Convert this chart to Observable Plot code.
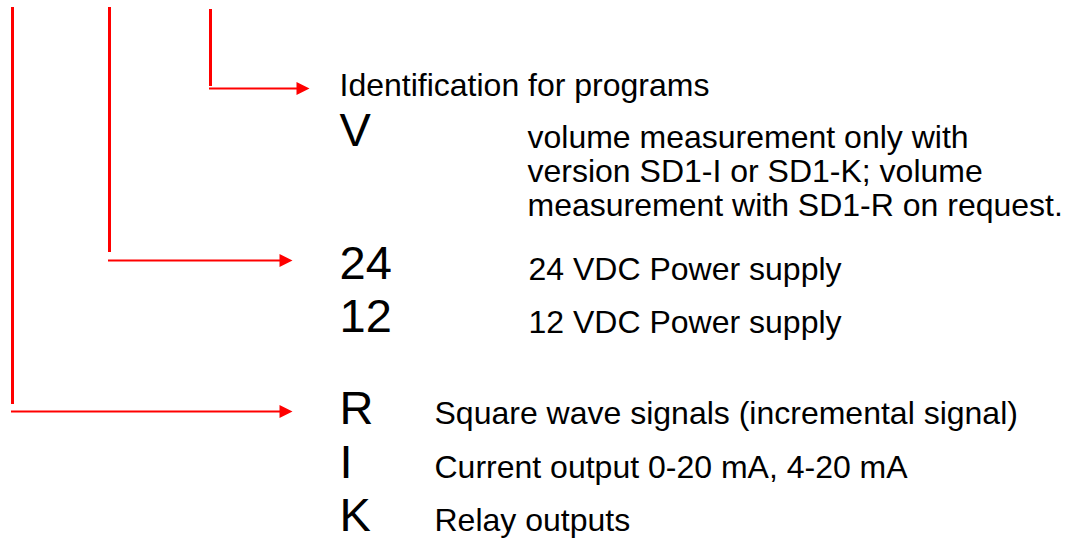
<!DOCTYPE html>
<html>
<head>
<meta charset="utf-8">
<script src="https://cdn.jsdelivr.net/npm/d3@7"></script>
<script src="https://cdn.jsdelivr.net/npm/@observablehq/plot@0.6"></script>
<style>
  html, body { margin: 0; padding: 0; background: #fff; }
  #chart { width: 1072px; height: 540px; }
</style>
</head>
<body>
<div id="chart"></div>
<script>
// ---- content ----
const heading = "Identification for programs";
const codes = ["V", "24", "12", "R", "I", "K"];
const descriptions = [
  "volume measurement only with",
  "version SD1-I or SD1-K; volume",
  "measurement with SD1-R on request.",
  "24 VDC Power supply",
  "12 VDC Power supply",
  "Square wave signals (incremental signal)",
  "Current output 0-20 mA, 4-20 mA",
  "Relay outputs"
];

// ---- layout (diagram coordinates) ----
const headingPos = {x: 339, y: 95};
const codeX = 339;
const codeY = [145, 278, 331, 423, 477, 530];
const descX = [527, 527, 527, 528, 528, 434, 434, 434];
const descY = [147, 181, 215, 279, 332, 423, 477, 530];
const leadX = [12, 109, 210];
const leadTop = [7, 7, 9];
const leadBottom = [404, 252, 86];
const leadElbow = [411, 260, 88];
const leadTip = [292, 292, 309];

const leads = leadX.map((x, i) => ({x, top: leadTop[i], bottom: leadBottom[i], elbow: leadElbow[i], tip: leadTip[i]}));
const codeRows = codes.map((c, i) => ({text: c, x: codeX, y: codeY[i]}));
const descRows = descriptions.map((d, i) => ({text: d, x: descX[i], y: descY[i]}));

const arrowHead = {
  draw(context) {
    context.moveTo(0, 0);
    context.lineTo(-13, -6.5);
    context.lineTo(-13, 6.5);
    context.closePath();
  }
};

const font = "'Liberation Sans', Arial, Helvetica, sans-serif";

const chart = Plot.plot({
  width: 1072,
  height: 540,
  margin: 0,
  style: {background: "#ffffff", fontFamily: font},
  x: {domain: [0, 1072], range: [0, 1072], axis: null},
  y: {domain: [0, 540], range: [0, 540], axis: null},
  marks: [
    Plot.ruleX(leads, {x: "x", y1: "top", y2: "bottom", stroke: "#ff0000", strokeWidth: 3}),
    Plot.ruleY(leads, {y: "elbow", x1: d => d.x - 1, x2: d => d.tip - 12, stroke: "#ff0000", strokeWidth: 2}),
    Plot.dot(leads, {x: "tip", y: "elbow", symbol: arrowHead, fill: "#ff0000", stroke: "none", r: 5}),
    Plot.text([heading], {x: () => headingPos.x, y: () => headingPos.y, text: d => d, textAnchor: "start", lineAnchor: "bottom", fontSize: 32, fill: "#000", fontFamily: font}),
    Plot.text(codeRows, {x: "x", y: "y", text: "text", textAnchor: "start", lineAnchor: "bottom", fontSize: 47, fill: "#000", fontFamily: font}),
    Plot.text(descRows, {x: "x", y: "y", text: "text", textAnchor: "start", lineAnchor: "bottom", fontSize: 32, fill: "#000", fontFamily: font})
  ]
});

document.getElementById("chart").appendChild(chart);
</script>
</body>
</html>
